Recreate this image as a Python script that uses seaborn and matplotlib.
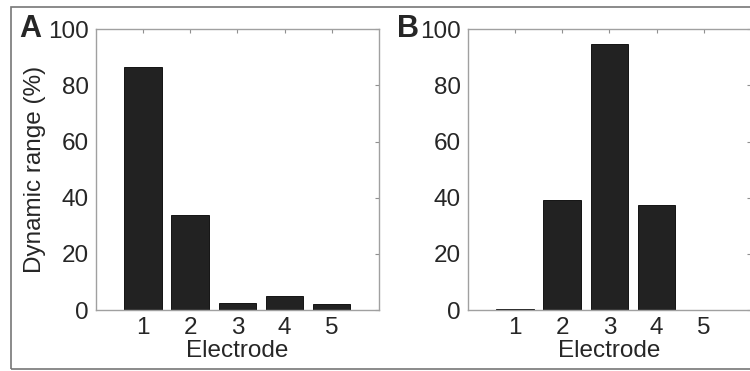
import matplotlib
matplotlib.use("Agg")
import matplotlib.pyplot as plt
import matplotlib.patches as patches
import seaborn as sns
import pandas as pd

# data
electrodes = ["1", "2", "3", "4", "5"]
range_a = [86.7, 33.8, 2.5, 5.0, 2.1]
range_b = [0.3, 39.4, 94.9, 37.3, 0.0]

sns.set_style("white")
plt.rcParams['font.family'] = ['Liberation Sans', 'DejaVu Sans']

fig = plt.figure(figsize=(7.5, 3.71), dpi=100)

# grey frame round the whole figure
frame = patches.Rectangle((11 / 750, 2 / 371), 1.2, 1 - 9 / 371,
                          transform=fig.transFigure, fill=False,
                          edgecolor="#777777", linewidth=1.2, clip_on=False)
fig.patches.append(frame)

panels = [("A", range_a, 0.128), ("B", range_b, 0.624)]
for letter, vals, left in panels:
    ax = fig.add_axes([left, 0.164, 0.377, 0.757])
    df = pd.DataFrame({"Electrode": electrodes, "Dynamic range": vals})
    sns.barplot(data=df, x="Electrode", y="Dynamic range", ax=ax,
                color="#222222", saturation=1, width=0.8,
                edgecolor="black", linewidth=0.6)
    ax.set_xlim(-1, 5)
    ax.set_ylim(0, 100)
    ax.set_yticks([0, 20, 40, 60, 80, 100])
    for s in ax.spines.values():
        s.set_color("#a0a0a0")
        s.set_linewidth(1.0)
        s.set_visible(True)
    ax.tick_params(direction="in", length=3, width=0.8, color="#909090",
                   top=True, right=True, labelsize=17.5, pad=5)
    ax.set_xlabel("Electrode", fontsize=17.5, labelpad=1)
    if letter == "A":
        ax.set_ylabel("Dynamic range (%)", fontsize=17.5, labelpad=2)
    else:
        ax.set_ylabel("")
    ax.text(-0.27 if letter == "A" else -0.25, 1.0, letter, transform=ax.transAxes,
            fontsize=22, fontweight="bold", ha="left", va="center")

fig.savefig("out.png", dpi=100)
